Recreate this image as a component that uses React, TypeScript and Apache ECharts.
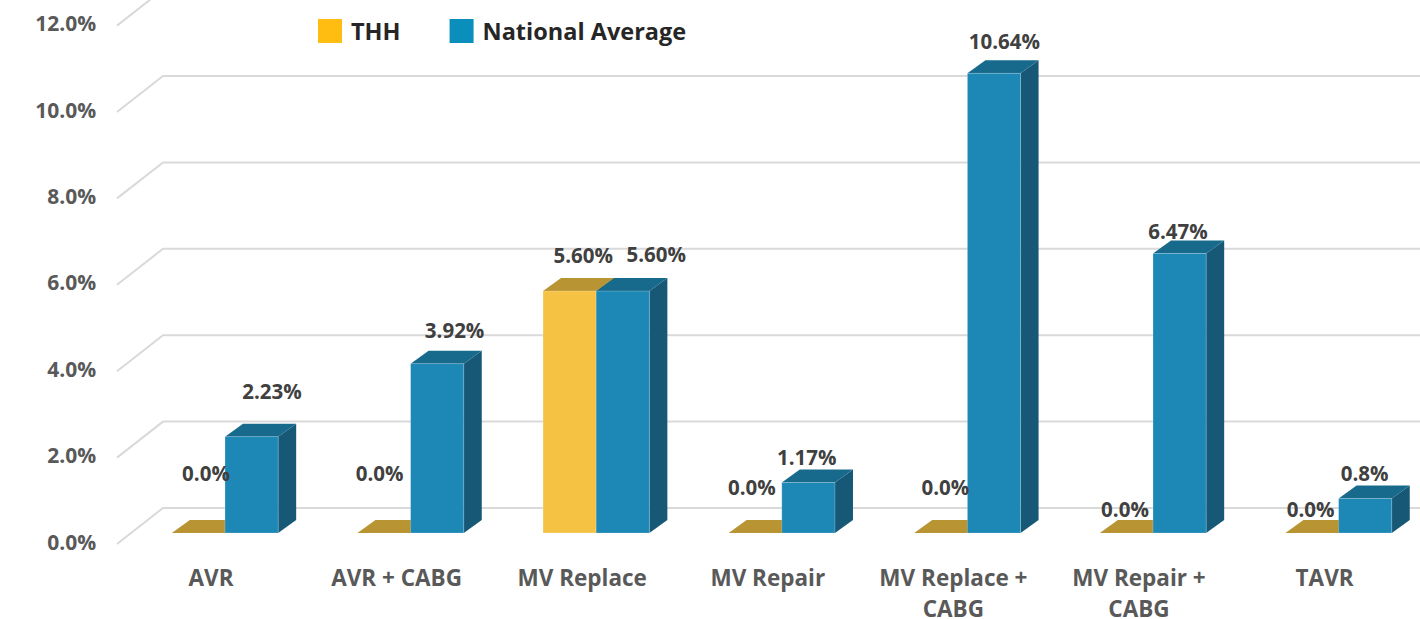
import React, { useEffect, useRef } from "react";
import * as echarts from "echarts";

const categories = ["AVR", "AVR + CABG", "MV Replace", "MV Repair", "MV Replace +\nCABG", "MV Repair +\nCABG", "TAVR"];
const thhValues = [0, 0, 5.6, 0, 0, 0, 0];
const nationalValues = [2.23, 3.92, 5.6, 1.17, 10.64, 6.47, 0.8];
const thhLabels = ["0.0%", "0.0%", "5.60%", "0.0%", "0.0%", "0.0%", "0.0%"];
const nationalLabels = ["2.23%", "3.92%", "5.60%", "1.17%", "10.64%", "6.47%", "0.8%"];
const yTicks = [0, 2, 4, 6, 8, 10, 12];

// label nudges relative to the top of each bar (layout, not data)
const thhLabelNudge = [[-19, -60], [-31, -60], [-13, -36], [-30, -46], [-22, -46], [-28, -24], [-28, -24]];
const nationalLabelNudge = [[47, -46], [44, -34], [60, -37], [25, -25], [37, -32], [25, -22], [26, -25]];

const FONT = '"Open Sans", sans-serif';
const DEPTH_X = 18;
const DEPTH_Y = 13;
const BAR_RATIO = 0.2865;

function barRenderer(side: "left" | "right", front: string, top: string, right: string) {
  return (_params: any, api: any) => {
    const i = api.value(0);
    const [cx, y] = api.coord([i, api.value(1)]);
    const [, y0] = api.coord([i, 0]);
    const w = api.size([1, 0])[0] * BAR_RATIO;
    const x0 = side === "left" ? cx - w : cx;
    const x1 = x0 + w;
    const children: any[] = [];
    children.push({
      type: "polygon",
      shape: { points: [[x1, y], [x1 + DEPTH_X, y - DEPTH_Y], [x1 + DEPTH_X, y0 - DEPTH_Y], [x1, y0]] },
      style: { fill: right },
    });
    children.push({
      type: "polygon",
      shape: { points: [[x0, y], [x0 + DEPTH_X, y - DEPTH_Y], [x1 + DEPTH_X, y - DEPTH_Y], [x1, y]] },
      style: { fill: top },
    });
    if (y0 - y > 0.5) {
      children.push({
        type: "rect",
        shape: { x: x0, y, width: w, height: y0 - y },
        style: { fill: front, stroke: "rgba(255,255,255,0.22)", lineWidth: 1 },
      });
    }
    return { type: "group", children };
  };
}

function labelRenderer(texts: string[], nudge: number[][]) {
  return (_params: any, api: any) => {
    const i = api.value(0);
    const [cx, y] = api.coord([i, api.value(1)]);
    return {
      type: "text",
      style: {
        text: texts[i],
        x: cx + nudge[i][0],
        y: y + nudge[i][1],
        align: "center",
        verticalAlign: "middle",
        fill: "#404040",
        font: `bold 20.5px ${FONT}`,
      },
    };
  };
}

function wallRenderer(_params: any, api: any) {
  const [cx, y] = api.coord([0, api.value(0)]);
  const left = cx - 108;
  return {
    type: "polyline",
    shape: { points: [[left, y + 11], [left + 46, y - 25], [1420, y - 25]] },
    style: { stroke: "#D9D9D9", lineWidth: 2, fill: "none" },
  };
}

export default function App() {
  const ref = useRef<HTMLDivElement>(null);

  useEffect(() => {
    document.body.style.margin = "0";
    const chart = echarts.init(ref.current!, undefined, { renderer: "svg" });
    const indexed = (vals: number[]) => vals.map((v, i) => [i, v]);
    const catText = { fontFamily: FONT, fontWeight: "bold", fontSize: 22.5, color: "#595959" };
    const option: any = {
      animation: false,
      backgroundColor: "#ffffff",
      legend: {
        left: 318,
        top: 19,
        padding: 0,
        icon: "rect",
        itemWidth: 24,
        itemHeight: 24,
        itemGap: 49,
        selectedMode: false,
        textStyle: { fontFamily: FONT, fontWeight: "bold", fontSize: 23.5, color: "#262626", padding: [0, 0, 0, 4] },
        data: [
          { name: "THH", itemStyle: { color: "#FFBC11" } },
          { name: "National Average", itemStyle: { color: "#0A8FBC" } },
        ],
      },
      grid: { left: 132.2, top: 14.6, width: 1299.2, height: 518.4, containLabel: false, outerBoundsMode: "none" },
      xAxis: {
        type: "category",
        data: categories,
        axisLine: { show: false },
        axisTick: { show: false },
        axisLabel: {
          interval: 0,
          margin: 24,
          padding: [0, 28, 0, 0],
          formatter: (v: string) =>
            v.split("\n").map((line, k) => `{${k ? "second" : "first"}|${line}}`).join("\n"),
          rich: {
            first: { ...catText, lineHeight: 40 },
            second: { ...catText, lineHeight: 22 },
          },
        },
      },
      yAxis: {
        type: "value",
        min: 0,
        max: 12,
        interval: 2,
        splitLine: { show: false },
        axisLine: { show: false },
        axisTick: { show: false },
        axisLabel: {
          margin: 36,
          formatter: (v: number) => `${v.toFixed(1)}%`,
          fontFamily: FONT,
          fontWeight: "bold",
          fontSize: 21,
          color: "#595959",
          verticalAlign: "top",
          lineHeight: 17,
        },
      },
      series: [
        {
          type: "custom",
          name: "walls",
          data: yTicks.map((v) => [v]),
          encode: { y: 0 },
          clip: false,
          silent: true,
          z: 1,
          renderItem: wallRenderer,
        },
        {
          type: "custom",
          name: "THH",
          data: indexed(thhValues),
          encode: { x: 0, y: 1 },
          clip: false,
          z: 2,
          itemStyle: { color: "#FFBC11" },
          renderItem: barRenderer("left", "#F6C244", "#B99433", "#8E7228"),
        },
        {
          type: "custom",
          name: "National Average",
          data: indexed(nationalValues),
          encode: { x: 0, y: 1 },
          clip: false,
          z: 3,
          itemStyle: { color: "#0A8FBC" },
          renderItem: barRenderer("right", "#1D87B6", "#186A8C", "#185877"),
        },
        {
          type: "custom",
          name: "THH labels",
          data: indexed(thhValues),
          encode: { x: 0, y: 1 },
          clip: false,
          z: 5,
          renderItem: labelRenderer(thhLabels, thhLabelNudge),
        },
        {
          type: "custom",
          name: "National labels",
          data: indexed(nationalValues),
          encode: { x: 0, y: 1 },
          clip: false,
          z: 5,
          renderItem: labelRenderer(nationalLabels, nationalLabelNudge),
        },
      ],
    };
    chart.setOption(option);
    return () => chart.dispose();
  }, []);

  return <div ref={ref} style={{ width: 1420, height: 619, overflow: "hidden" }} />;
}
